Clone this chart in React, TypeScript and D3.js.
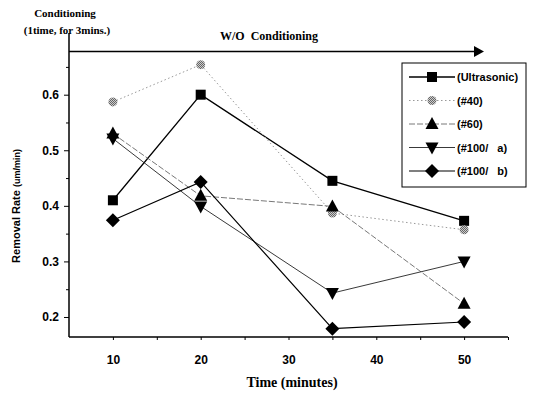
import React, { useEffect, useRef } from 'react';
import * as d3 from 'd3';

// x values (minutes)
const times = [10, 20, 35, 50];

// removal rate per series (um/min)
const ultrasonic = [0.41, 0.6, 0.445, 0.373];
const grit40 = [0.587, 0.654, 0.387, 0.357];
const grit60 = [0.53, 0.418, 0.399, 0.224];
const grit100a = [0.521, 0.399, 0.243, 0.3];
const grit100b = [0.374, 0.443, 0.179, 0.191];

const seriesNames = ['(Ultrasonic)', '(#40)', '(#60)', '(#100/   a)', '(#100/   b)'];
const yTicks = [0.2, 0.3, 0.4, 0.5, 0.6];
const yMinor = [0.25, 0.35, 0.45, 0.55, 0.65];
const xTicks = [10, 20, 30, 40, 50];
const xMinor = [15, 25, 35, 45, 55];

type Style = {
	stroke: string;
	width: number;
	dash: string | null;
	marker: 'square' | 'circle' | 'up' | 'down' | 'diamond';
	fill: string;
};

const styles: Style[] = [
	{ stroke: '#000', width: 1.3, dash: null, marker: 'square', fill: '#000' },
	{ stroke: '#999', width: 1, dash: '1.5,2.5', marker: 'circle', fill: 'url(#dither)' },
	{ stroke: '#555', width: 0.8, dash: '6,2', marker: 'up', fill: '#000' },
	{ stroke: '#222', width: 0.9, dash: null, marker: 'down', fill: '#000' },
	{ stroke: '#000', width: 1.2, dash: null, marker: 'diamond', fill: '#000' },
];

const sansBold = "'Liberation Sans', Arial, sans-serif";
const serifBold = "'Liberation Serif', 'Times New Roman', serif";

function drawMarker(g: d3.Selection<SVGGElement, unknown, null, undefined>, kind: Style['marker'], x: number, y: number, fill: string) {
	if (kind === 'square') {
		g.append('rect').attr('x', x - 5).attr('y', y - 5).attr('width', 10).attr('height', 10).attr('fill', fill);
	} else if (kind === 'circle') {
		g.append('circle').attr('cx', x).attr('cy', y).attr('r', 4.5).attr('fill', fill);
	} else if (kind === 'up') {
		g.append('path').attr('d', `M${x},${y - 7}L${x + 6.5},${y + 5}L${x - 6.5},${y + 5}Z`).attr('fill', fill);
	} else if (kind === 'down') {
		g.append('path').attr('d', `M${x - 6.5},${y - 5}L${x + 6.5},${y - 5}L${x},${y + 7}Z`).attr('fill', fill);
	} else {
		g.append('path').attr('d', `M${x},${y - 7}L${x + 7},${y}L${x},${y + 7}L${x - 7},${y}Z`).attr('fill', fill);
	}
}

const Chart: React.FC = () => {
	const ref = useRef<SVGGElement>(null);

	useEffect(() => {
		if (!ref.current) return;
		const svg = d3.select(ref.current);
		svg.selectAll('*').remove();

		// dithered grey fill for the #40 marker
		const defs = svg.append('defs');
		const pat = defs.append('pattern').attr('id', 'dither').attr('width', 2).attr('height', 2).attr('patternUnits', 'userSpaceOnUse');
		pat.append('rect').attr('width', 2).attr('height', 2).attr('fill', '#ccc');
		pat.append('rect').attr('width', 1).attr('height', 1).attr('fill', '#666');
		pat.append('rect').attr('x', 1).attr('y', 1).attr('width', 1).attr('height', 1).attr('fill', '#666');

		const x = d3.scaleLinear().domain([5, 55]).range([69, 508]);
		const y = d3.scaleLinear().domain([0.164, 0.702]).range([337, 38]);

		// --- Axes ---
		const yAxis = svg.append('g').attr('transform', `translate(${x(5)},0)`);
		yAxis.call(d3.axisLeft(y).tickValues(yTicks).tickSize(5).tickFormat(d3.format('.1f')));
		yAxis.append('g').call(d3.axisLeft(y).tickValues(yMinor).tickSize(3).tickFormat(() => ''));
		yAxis.selectAll('.domain').remove();
		yAxis.selectAll('text').attr('font-family', sansBold).attr('font-weight', 'bold').attr('font-size', 12).attr('fill', '#000').attr('dx', -2);

		const xAxis = svg.append('g').attr('transform', `translate(0,${y(0.164)})`);
		xAxis.call(d3.axisBottom(x).tickValues(xTicks).tickSize(3).tickPadding(15));
		xAxis.append('g').call(d3.axisBottom(x).tickValues(xMinor).tickSize(3).tickFormat(() => ''));
		xAxis.selectAll('.domain').remove();
		xAxis.selectAll('text').attr('font-family', sansBold).attr('font-weight', 'bold').attr('font-size', 12).attr('fill', '#000');

		svg.append('line').attr('x1', x(5)).attr('x2', x(5)).attr('y1', 33).attr('y2', y(0.164)).attr('stroke', '#000').attr('stroke-width', 1.5);
		svg.append('line').attr('x1', x(5)).attr('x2', x(55)).attr('y1', y(0.164)).attr('y2', y(0.164)).attr('stroke', '#000').attr('stroke-width', 1.5);

		// conditioning arrow
		svg.append('line').attr('x1', x(5)).attr('x2', 476).attr('y1', 51.5).attr('y2', 51.5).attr('stroke', '#000').attr('stroke-width', 1.5);
		svg.append('path').attr('d', 'M474,46L484,51.5L474,57Z').attr('fill', '#000');

		// --- Lines and markers ---
		const all = [ultrasonic, grit40, grit60, grit100a, grit100b];
		const line = d3.line<number>().x((_, i) => x(times[i])).y((d) => y(d));
		all.forEach((vals, k) => {
			const s = styles[k];
			svg.append('path').attr('d', line(vals)).attr('fill', 'none').attr('stroke', s.stroke).attr('stroke-width', s.width).attr('stroke-dasharray', s.dash);
		});
		all.forEach((vals, k) => {
			const g = svg.append('g');
			vals.forEach((v, i) => drawMarker(g, styles[k].marker, x(times[i]), y(v), styles[k].fill));
		});

		// --- Legend ---
		const lg = svg.append('g');
		lg.append('rect').attr('x', 402).attr('y', 63).attr('width', 124).attr('height', 124).attr('fill', '#fff').attr('stroke', '#000').attr('stroke-width', 1);
		seriesNames.forEach((name, k) => {
			const s = styles[k];
			const ly = 77 + k * 23.5;
			lg.append('line').attr('x1', 409).attr('x2', 455).attr('y1', ly).attr('y2', ly).attr('stroke', s.stroke).attr('stroke-width', s.width).attr('stroke-dasharray', s.dash);
			drawMarker(lg, s.marker, 432, ly, s.fill);
			lg.append('text').attr('x', 457).attr('y', ly + 4).attr('font-family', sansBold).attr('font-weight', 'bold').attr('font-size', 11).style('white-space', 'pre').text(name);
		});
	}, []);

	return (
		<svg width={533} height={393} style={{ position: 'absolute', left: 0, top: 0, background: '#fff' }}>
			<g ref={ref} />
			<text x={65} y={17} textAnchor="middle" fontFamily={serifBold} fontWeight="bold" fontSize={11}>Conditioning</text>
			<text x={67} y={34} textAnchor="middle" fontFamily={serifBold} fontWeight="bold" fontSize={11}>(1time, for 3mins.)</text>
			<text x={269} y={40} textAnchor="middle" fontFamily={serifBold} fontWeight="bold" fontSize={12} style={{ whiteSpace: 'pre' }}>W/O  Conditioning</text>
			<text x={292} y={387} textAnchor="middle" fontFamily={serifBold} fontWeight="bold" fontSize={14}>Time (minutes)</text>
			<text transform="translate(20,206) rotate(-90)" textAnchor="middle" fontFamily={sansBold} fontWeight="bold" fontSize={11}>
				Removal Rate <tspan fontSize={9}>(um/min)</tspan>
			</text>
		</svg>
	);
};

export default function App() {
	return <Chart />;
}
